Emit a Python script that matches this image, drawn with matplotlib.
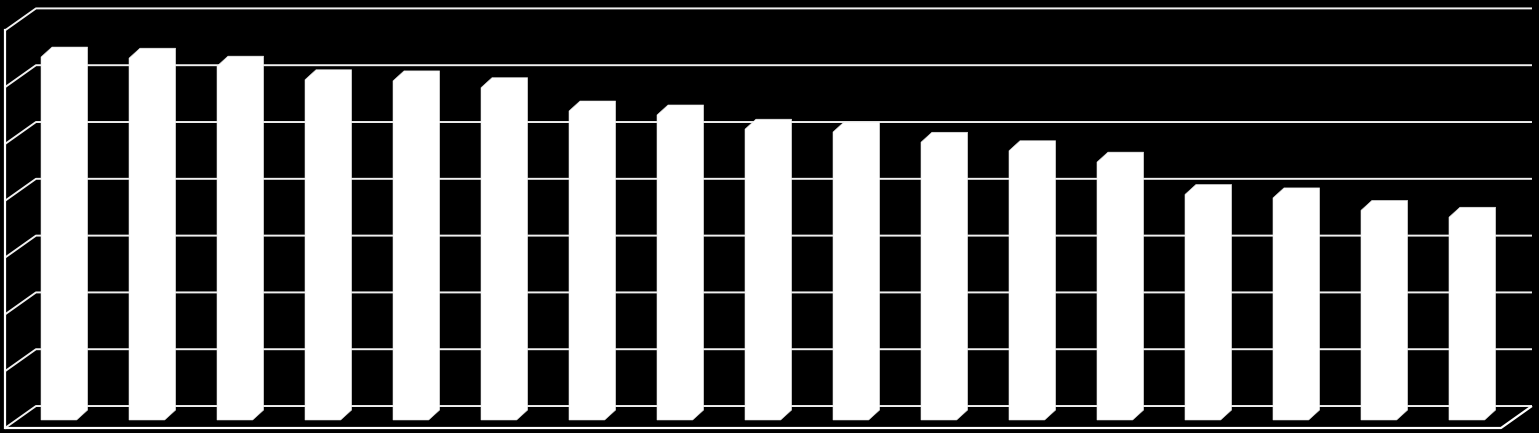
import numpy as np
import matplotlib.pyplot as plt
from matplotlib.patches import Polygon

# bar values (gridlines every 10, no labels shown in the original)
values = [63.9, 63.7, 62.3, 59.9, 59.7, 58.5, 54.4, 53.7, 51.2,
          50.7, 48.9, 47.4, 45.4, 39.7, 39.1, 36.9, 35.7]
grid_values = np.arange(0, 80, 10)

n = len(values)
depth_x, depth_y = 0.352, 3.87      # offset of back wall vs. front of floor
bar_x0, bar_w = 0.409, 0.405        # front face position inside each slot
bar_base = 1.41                     # bars stand a bit behind the floor edge
bar_dx, bar_dy = 0.125, 1.76        # depth of each bar

fig = plt.figure(figsize=(15.39, 4.33), dpi=100, facecolor='black')
ax = fig.add_axes([0, 0, 1, 1])
ax.set_facecolor('black')
ax.set_xlim(-0.057, 17.432)
ax.set_ylim(-0.88, 75.35)
ax.axis('off')

# gridlines: short diagonal on the side wall, then along the back wall
for g in grid_values:
    ax.plot([0, depth_x, n + depth_x], [g, g + depth_y, g + depth_y],
            color='#f0f0f0', lw=1.4, solid_capstyle='butt', zorder=1)

# left axis and floor edges
ax.plot([0, 0], [0, grid_values[-1]], color='white', lw=1.6, zorder=1)
ax.plot([0, n, n + depth_x], [0, 0, depth_y], color='white', lw=1.6,
        solid_capstyle='butt', zorder=1)

# bars as white prisms
for i, v in enumerate(values):
    x0 = i + bar_x0
    pts = [(x0, bar_base),
           (x0 + bar_w, bar_base),
           (x0 + bar_w + bar_dx, bar_base + bar_dy),
           (x0 + bar_w + bar_dx, bar_base + bar_dy + v),
           (x0 + bar_dx, bar_base + bar_dy + v),
           (x0, bar_base + v)]
    ax.add_patch(Polygon(pts, closed=True, facecolor='white',
                         edgecolor='#e4e4e4', lw=0.4, zorder=3))

fig.savefig('out.png', dpi=100, facecolor='black')
